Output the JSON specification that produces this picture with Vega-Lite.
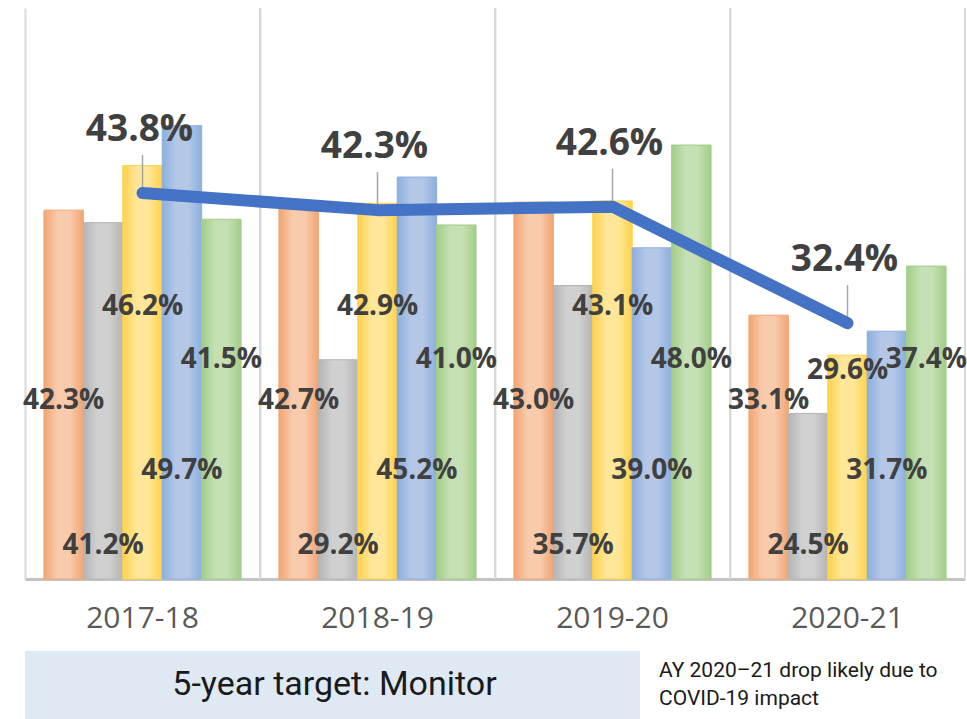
{
  "$schema": "https://vega.github.io/schema/vega-lite/v6.json",
  "padding": {"left": 23, "top": 7, "right": 4, "bottom": 0},
  "config": {"view": {"stroke": null}},
  "datasets": {
    "bars": [
      {"year": "2017-18", "series": "S1", "value": 0.423},
      {"year": "2017-18", "series": "S2", "value": 0.412},
      {"year": "2017-18", "series": "S3", "value": 0.462},
      {"year": "2017-18", "series": "S4", "value": 0.497},
      {"year": "2017-18", "series": "S5", "value": 0.415},
      {"year": "2018-19", "series": "S1", "value": 0.427},
      {"year": "2018-19", "series": "S2", "value": 0.292},
      {"year": "2018-19", "series": "S3", "value": 0.429},
      {"year": "2018-19", "series": "S4", "value": 0.452},
      {"year": "2018-19", "series": "S5", "value": 0.410},
      {"year": "2019-20", "series": "S1", "value": 0.430},
      {"year": "2019-20", "series": "S2", "value": 0.357},
      {"year": "2019-20", "series": "S3", "value": 0.431},
      {"year": "2019-20", "series": "S4", "value": 0.390},
      {"year": "2019-20", "series": "S5", "value": 0.480},
      {"year": "2020-21", "series": "S1", "value": 0.331},
      {"year": "2020-21", "series": "S2", "value": 0.245},
      {"year": "2020-21", "series": "S3", "value": 0.296},
      {"year": "2020-21", "series": "S4", "value": 0.317},
      {"year": "2020-21", "series": "S5", "value": 0.374}
    ],
    "overall": [
      {"year": "2017-18", "rate": 0.438},
      {"year": "2018-19", "rate": 0.423},
      {"year": "2019-20", "rate": 0.426},
      {"year": "2020-21", "rate": 0.324}
    ]
  },
  "spacing": 72,
  "bounds": "flush",
  "vconcat": [
    {
      "width": 940,
      "height": 571,
      "encoding": {
        "x": {
          "field": "year",
          "type": "nominal",
          "sort": ["2017-18", "2018-19", "2019-20", "2020-21"],
          "scale": {"paddingInner": 0, "paddingOuter": 0},
          "axis": {
            "title": null,
            "labelAngle": 0,
            "bandPosition": 0,
            "grid": true,
            "gridColor": "#d9d9d9",
            "gridWidth": 2,
            "ticks": false,
            "tickSize": 0,
            "domainColor": "#c3c3c3",
            "domainWidth": 3,
            "labelFont": "Open Sans",
            "labelFontSize": 30,
            "labelColor": "#595959",
            "labelPadding": 24
          }
        }
      },
      "layer": [
        {
          "data": {"name": "overall"},
          "mark": {"type": "rule", "color": "#d9d9d9", "strokeWidth": 2},
          "encoding": {"x": {"field": "year", "type": "nominal", "bandPosition": 1}}
        },
        {
          "data": {"name": "bars"},
          "transform": [{"filter": "datum.series === 'S1'"}],
          "mark": {"type": "bar", "stroke": "#f2a572", "strokeWidth": 1,
            "color": {"gradient": "linear", "x1": 0, "y1": 0, "x2": 1, "y2": 0,
              "stops": [{"offset": 0, "color": "#f2a572"}, {"offset": 0.35, "color": "#f8cbad"}, {"offset": 0.65, "color": "#f8cbad"}, {"offset": 1, "color": "#f2a572"}]}},
          "encoding": {
            "xOffset": {"field": "series", "type": "nominal", "scale": {"domain": ["S1", "S2", "S3", "S4", "S5"], "paddingInner": 0, "paddingOuter": 0.48}},
            "y": {"field": "value", "type": "quantitative", "scale": {"domain": [0.1, 0.6], "zero": false, "nice": false}, "axis": null},
            "y2": {"datum": 0.1}
          }
        },
        {
          "data": {"name": "bars"},
          "transform": [{"filter": "datum.series === 'S2'"}],
          "mark": {"type": "bar", "stroke": "#b4b4b4", "strokeWidth": 1,
            "color": {"gradient": "linear", "x1": 0, "y1": 0, "x2": 1, "y2": 0,
              "stops": [{"offset": 0, "color": "#b4b4b4"}, {"offset": 0.35, "color": "#d0d0d0"}, {"offset": 0.65, "color": "#d0d0d0"}, {"offset": 1, "color": "#b4b4b4"}]}},
          "encoding": {
            "xOffset": {"field": "series", "type": "nominal", "scale": {"domain": ["S1", "S2", "S3", "S4", "S5"], "paddingInner": 0, "paddingOuter": 0.48}},
            "y": {"field": "value", "type": "quantitative", "axis": null},
            "y2": {"datum": 0.1}
          }
        },
        {
          "data": {"name": "bars"},
          "transform": [{"filter": "datum.series === 'S3'"}],
          "mark": {"type": "bar", "stroke": "#ffd24a", "strokeWidth": 1,
            "color": {"gradient": "linear", "x1": 0, "y1": 0, "x2": 1, "y2": 0,
              "stops": [{"offset": 0, "color": "#ffd24a"}, {"offset": 0.35, "color": "#ffe699"}, {"offset": 0.65, "color": "#ffe699"}, {"offset": 1, "color": "#ffd24a"}]}},
          "encoding": {
            "xOffset": {"field": "series", "type": "nominal", "scale": {"domain": ["S1", "S2", "S3", "S4", "S5"], "paddingInner": 0, "paddingOuter": 0.48}},
            "y": {"field": "value", "type": "quantitative", "axis": null},
            "y2": {"datum": 0.1}
          }
        },
        {
          "data": {"name": "bars"},
          "transform": [{"filter": "datum.series === 'S4'"}],
          "mark": {"type": "bar", "stroke": "#8cafdf", "strokeWidth": 1,
            "color": {"gradient": "linear", "x1": 0, "y1": 0, "x2": 1, "y2": 0,
              "stops": [{"offset": 0, "color": "#8cafdf"}, {"offset": 0.35, "color": "#b4c7e7"}, {"offset": 0.65, "color": "#b4c7e7"}, {"offset": 1, "color": "#8cafdf"}]}},
          "encoding": {
            "xOffset": {"field": "series", "type": "nominal", "scale": {"domain": ["S1", "S2", "S3", "S4", "S5"], "paddingInner": 0, "paddingOuter": 0.48}},
            "y": {"field": "value", "type": "quantitative", "axis": null},
            "y2": {"datum": 0.1}
          }
        },
        {
          "data": {"name": "bars"},
          "transform": [{"filter": "datum.series === 'S5'"}],
          "mark": {"type": "bar", "stroke": "#a3cd87", "strokeWidth": 1,
            "color": {"gradient": "linear", "x1": 0, "y1": 0, "x2": 1, "y2": 0,
              "stops": [{"offset": 0, "color": "#a3cd87"}, {"offset": 0.35, "color": "#c5e0b4"}, {"offset": 0.65, "color": "#c5e0b4"}, {"offset": 1, "color": "#a3cd87"}]}},
          "encoding": {
            "xOffset": {"field": "series", "type": "nominal", "scale": {"domain": ["S1", "S2", "S3", "S4", "S5"], "paddingInner": 0, "paddingOuter": 0.48}},
            "y": {"field": "value", "type": "quantitative", "axis": null},
            "y2": {"datum": 0.1}
          }
        },
        {
          "data": {"name": "bars"},
          "transform": [{"filter": "datum.series === 'S1'"}],
          "mark": {"type": "text", "font": "Open Sans", "fontWeight": "bold", "fontSize": 28, "color": "#404040", "baseline": "middle"},
          "encoding": {
            "xOffset": {"field": "series", "type": "nominal", "scale": {"domain": ["S1", "S2", "S3", "S4", "S5"], "paddingInner": 0, "paddingOuter": 0.48}},
            "y": {"datum": 0.2559, "type": "quantitative"},
            "text": {"field": "value", "type": "quantitative", "format": ".1%"}
          }
        },
        {
          "data": {"name": "bars"},
          "transform": [{"filter": "datum.series === 'S2'"}],
          "mark": {"type": "text", "font": "Open Sans", "fontWeight": "bold", "fontSize": 28, "color": "#404040", "baseline": "middle"},
          "encoding": {
            "xOffset": {"field": "series", "type": "nominal", "scale": {"domain": ["S1", "S2", "S3", "S4", "S5"], "paddingInner": 0, "paddingOuter": 0.48}},
            "y": {"datum": 0.1289, "type": "quantitative"},
            "text": {"field": "value", "type": "quantitative", "format": ".1%"}
          }
        },
        {
          "data": {"name": "bars"},
          "transform": [{"filter": "datum.series === 'S3' && datum.year !== '2020-21'"}],
          "mark": {"type": "text", "font": "Open Sans", "fontWeight": "bold", "fontSize": 28, "color": "#404040", "baseline": "middle"},
          "encoding": {
            "xOffset": {"field": "series", "type": "nominal", "scale": {"domain": ["S1", "S2", "S3", "S4", "S5"], "paddingInner": 0, "paddingOuter": 0.48}},
            "y": {"datum": 0.3382, "type": "quantitative"},
            "text": {"field": "value", "type": "quantitative", "format": ".1%"}
          }
        },
        {
          "data": {"name": "bars"},
          "transform": [{"filter": "datum.series === 'S3' && datum.year === '2020-21'"}],
          "mark": {"type": "text", "font": "Open Sans", "fontWeight": "bold", "fontSize": 28, "color": "#404040", "baseline": "middle"},
          "encoding": {
            "xOffset": {"field": "series", "type": "nominal", "scale": {"domain": ["S1", "S2", "S3", "S4", "S5"], "paddingInner": 0, "paddingOuter": 0.48}},
            "y": {"datum": 0.282, "type": "quantitative"},
            "text": {"field": "value", "type": "quantitative", "format": ".1%"}
          }
        },
        {
          "data": {"name": "bars"},
          "transform": [{"filter": "datum.series === 'S4'"}],
          "mark": {"type": "text", "font": "Open Sans", "fontWeight": "bold", "fontSize": 28, "color": "#404040", "baseline": "middle"},
          "encoding": {
            "xOffset": {"field": "series", "type": "nominal", "scale": {"domain": ["S1", "S2", "S3", "S4", "S5"], "paddingInner": 0, "paddingOuter": 0.48}},
            "y": {"datum": 0.1946, "type": "quantitative"},
            "text": {"field": "value", "type": "quantitative", "format": ".1%"}
          }
        },
        {
          "data": {"name": "bars"},
          "transform": [{"filter": "datum.series === 'S5'"}],
          "mark": {"type": "text", "font": "Open Sans", "fontWeight": "bold", "fontSize": 28, "color": "#404040", "baseline": "middle"},
          "encoding": {
            "xOffset": {"field": "series", "type": "nominal", "scale": {"domain": ["S1", "S2", "S3", "S4", "S5"], "paddingInner": 0, "paddingOuter": 0.48}},
            "y": {"datum": 0.292, "type": "quantitative"},
            "text": {"field": "value", "type": "quantitative", "format": ".1%"}
          }
        },
        {
          "data": {"name": "overall"},
          "mark": {"type": "rule", "color": "#a6a6a6", "strokeWidth": 1.5, "yOffset": -3, "y2Offset": -38},
          "encoding": {
            "y": {"field": "rate", "type": "quantitative"},
            "y2": {"field": "rate"}
          }
        },
        {
          "data": {"name": "overall"},
          "mark": {"type": "line", "color": "#4472c4", "strokeWidth": 12, "strokeCap": "round", "strokeJoin": "round"},
          "encoding": {
            "y": {"field": "rate", "type": "quantitative"}
          }
        },
        {
          "data": {"name": "overall"},
          "mark": {"type": "text", "font": "Open Sans", "fontWeight": "bold", "fontSize": 37, "color": "#404040", "baseline": "alphabetic", "dy": -52, "dx": -3},
          "encoding": {
            "y": {"field": "rate", "type": "quantitative"},
            "text": {"field": "rate", "type": "quantitative", "format": ".1%"}
          }
        }
      ]
    },
    {
      "spacing": 19,
      "bounds": "flush",
      "hconcat": [
        {
          "width": 615,
          "height": 68,
          "view": {"fill": "#dfe9f4", "stroke": null},
          "data": {"values": [{"target": "5-year target: Monitor"}]},
          "mark": {"type": "text", "font": "Roboto", "fontSize": 34, "color": "#1a1a1a", "baseline": "middle", "dx": 2},
          "encoding": {"text": {"field": "target", "type": "nominal"}}
        },
        {
          "width": 300,
          "height": 68,
          "data": {"values": [{"note": "AY 2020–21 drop likely due to\nCOVID-19 impact"}]},
          "mark": {"type": "text", "font": "Roboto", "fontSize": 21, "lineHeight": 28, "lineBreak": "\n", "align": "left", "x": 0, "dy": -14, "color": "#1a1a1a", "baseline": "middle"},
          "encoding": {"text": {"field": "note", "type": "nominal"}}
        }
      ]
    }
  ]
}
